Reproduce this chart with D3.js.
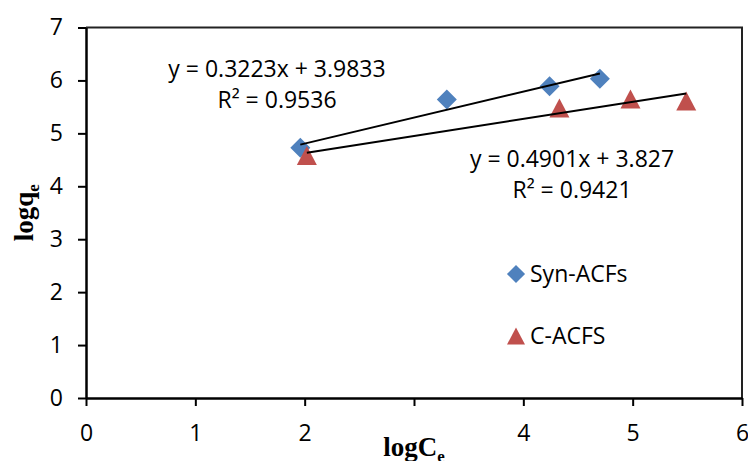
<!DOCTYPE html>
<html>
<head>
<meta charset="utf-8">
<script src="https://cdn.jsdelivr.net/npm/d3@7"></script>
<style>
  body { margin: 0; background: #fff; }
  svg { display: block; }
  .tick text { font-family: "Open Sans", sans-serif; font-size: 23px; fill: #000; }
</style>
</head>
<body>
<div id="chart"></div>
<script>
// values
const synX = [1.96, 3.30, 4.24, 4.70];
const synY = [4.73, 5.64, 5.89, 6.03];
const cX = [2.02, 4.33, 4.98, 5.49];
const cY = [4.58, 5.48, 5.65, 5.61];

// trendlines as printed on the chart
const synFit = { slope: 0.4901, intercept: 3.827 };
const cFit = { slope: 0.3223, intercept: 3.9833 };

const xTicks = [0, 1, 2, 3, 4, 5, 6];
const yTicks = [0, 1, 2, 3, 4, 5, 6, 7];
const seriesNames = ["Syn-ACFs", "C-ACFS"];

const width = 748, height = 461;
const margin = { top: 27.5, right: 6, bottom: 63, left: 86 };

const svg = d3.select("#chart").append("svg")
  .attr("width", width)
  .attr("height", height);

const x = d3.scaleLinear().domain([0, 6]).range([margin.left, width - margin.right]);
const y = d3.scaleLinear().domain([0, 7]).range([height - margin.bottom, margin.top]);

// frame top + right
svg.append("path")
  .attr("d", `M${x(0)},${y(7)}H${x(6)}V${y(0)}`)
  .attr("fill", "none")
  .attr("stroke", "#222")
  .attr("stroke-width", 2);

// the "3" label sits under the axis title in the original, so it is left blank
const xAxis = svg.append("g")
  .attr("transform", `translate(0,${y(0)})`)
  .call(d3.axisBottom(x).tickValues(xTicks).tickSize(8).tickSizeOuter(0)
    .tickFormat(d => d === 3 ? "" : d3.format("d")(d)));
xAxis.selectAll(".tick text").attr("y", 43).attr("dy", null);

const yAxis = svg.append("g")
  .attr("transform", `translate(${x(0)},0)`)
  .call(d3.axisLeft(y).tickValues(yTicks).tickSize(8).tickSizeOuter(0).tickPadding(15).tickFormat(d3.format("d")));

svg.selectAll(".domain").attr("stroke", "#000").attr("stroke-width", 2.5);
svg.selectAll(".tick line").attr("stroke", "#000").attr("stroke-width", 2);

// trendlines
function fitLine(xs, fit) {
  const x0 = d3.min(xs), x1 = d3.max(xs);
  return [[x0, fit.slope * x0 + fit.intercept], [x1, fit.slope * x1 + fit.intercept]];
}
const line = d3.line().x(d => x(d[0])).y(d => y(d[1]));

// markers
const diamond = d3.symbol().type(d3.symbolSquare).size(200);
const triangle = {
  draw(ctx, size) {
    const w = Math.sqrt(size), h = w * 0.95;
    ctx.moveTo(0, -h / 2);
    ctx.lineTo(w / 2, h / 2);
    ctx.lineTo(-w / 2, h / 2);
    ctx.closePath();
  }
};
const tri = d3.symbol().type(triangle).size(400);

svg.append("g").selectAll("path")
  .data(d3.zip(synX, synY))
  .join("path")
  .attr("d", diamond)
  .attr("fill", "#4F81BD")
  .attr("transform", d => `translate(${x(d[0])},${y(d[1])}) rotate(45)`);

svg.append("g").selectAll("path")
  .data(d3.zip(cX, cY))
  .join("path")
  .attr("d", tri)
  .attr("fill", "#C0504D")
  .attr("transform", d => `translate(${x(d[0])},${y(d[1])})`);

svg.append("path").datum(fitLine(synX, synFit))
  .attr("d", line).attr("stroke", "#000").attr("stroke-width", 2).attr("fill", "none");
svg.append("path").datum(fitLine(cX, cFit))
  .attr("d", line).attr("stroke", "#000").attr("stroke-width", 2).attr("fill", "none");

// equation labels
function eqLabel(cx, by, fit, r2) {
  const t = svg.append("text")
    .attr("text-anchor", "middle")
    .attr("font-family", "Open Sans, sans-serif")
    .attr("font-size", 23);
  t.append("tspan").attr("x", cx).attr("y", by)
    .text(`y = ${fit.slope}x + ${fit.intercept}`);
  t.append("tspan").attr("x", cx).attr("y", by + 31)
    .text(`R² = ${r2}`);
}
eqLabel(277, 77, cFit, "0.9536");
eqLabel(572, 167, synFit, "0.9421");

// legend
const legend = svg.append("g").attr("font-family", "Open Sans, sans-serif").attr("font-size", 23);
const lg1 = legend.append("g").attr("transform", "translate(516,274)");
lg1.append("path").attr("d", d3.symbol().type(d3.symbolSquare).size(165)).attr("fill", "#4F81BD").attr("transform", "rotate(45)");
lg1.append("text").attr("x", 14).attr("y", 8).text(seriesNames[0]);
const lg2 = legend.append("g").attr("transform", "translate(516,336)");
lg2.append("path").attr("d", d3.symbol().type(triangle).size(324)).attr("fill", "#C0504D");
lg2.append("text").attr("x", 14).attr("y", 8).text(seriesNames[1]);

// axis titles
const xt = svg.append("text")
  .attr("x", (x(0) + x(6)) / 2)
  .attr("y", 456)
  .attr("text-anchor", "middle")
  .attr("font-family", "Liberation Serif, serif")
  .attr("font-weight", "bold")
  .attr("font-size", 27);
xt.append("tspan").text("logC");
xt.append("tspan").attr("font-size", 17).attr("dy", 6).text("e");

const yt = svg.append("text")
  .attr("transform", `translate(33,${(y(0) + y(7)) / 2}) rotate(-90)`)
  .attr("text-anchor", "middle")
  .attr("font-family", "Liberation Serif, serif")
  .attr("font-weight", "bold")
  .attr("font-size", 27);
yt.append("tspan").text("logq");
yt.append("tspan").attr("font-size", 17).attr("dy", 6).text("e");
</script>
</body>
</html>
